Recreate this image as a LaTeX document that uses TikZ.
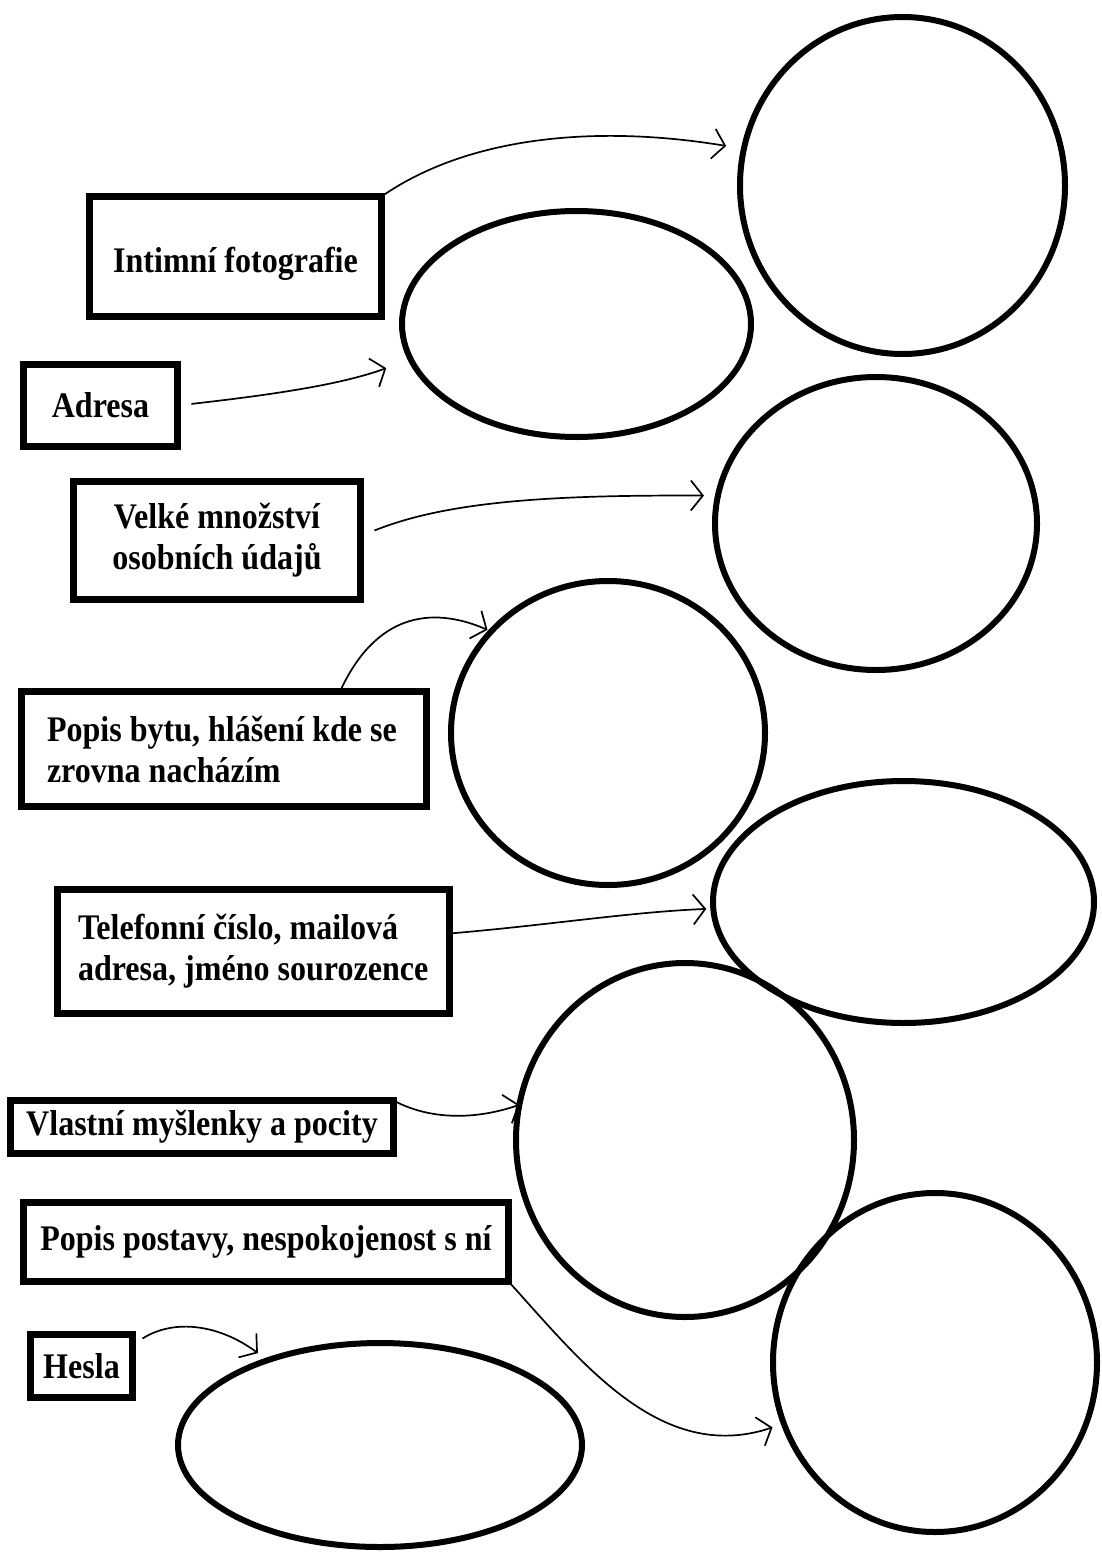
\documentclass[tikz,border=0pt]{standalone}
\usepackage{fontspec}
\usetikzlibrary{shapes.geometric,arrows.meta}
\newfontfamily\lblfont{Liberation Serif}[FakeStretch=0.89]
\newcommand\lbl{\lblfont\bfseries\fontsize{36pt}{41pt}\selectfont}
\newcommand\natsp{\spaceskip=0pt\xspaceskip=0pt\relax}
\begin{document}
\begin{tikzpicture}[x=1pt,y=-1pt,
  box/.style={draw, line width=7pt, rectangle, outer sep=0pt, inner sep=2pt, font=\lbl, text=black},
  oval/.style={draw, line width=6pt, ellipse, outer sep=0pt, inner sep=0pt},
  conn/.style={line width=1.7pt, -{Straight Barb[length=12pt,width=30pt]}}]
\useasboundingbox (0,0) rectangle (1101,1552);
\fill[white] (0,0) rectangle (1101,1552);

% ovals
\node[oval, minimum width=325pt, minimum height=337pt] (e1) at (902.5,185.5) {};
\node[oval, minimum width=349pt, minimum height=226pt] (e2) at (576.5,324) {};
\node[oval, minimum width=322pt, minimum height=293pt] (e3) at (876,523.5) {};
\node[oval, minimum width=314pt, minimum height=304pt] (e4) at (608,733) {};
\node[oval, minimum width=381pt, minimum height=242pt] (e5) at (903.5,902) {};
\node[oval, minimum width=338pt, minimum height=354pt] (e6) at (685,1140) {};
\node[oval, minimum width=324pt, minimum height=339pt] (e7) at (935,1362.5) {};
\node[oval, minimum width=404pt, minimum height=204pt] (e8) at (380,1445) {};

% boxes
\node[box, minimum width=292pt, minimum height=120pt] (b1) at (235.5,256.5) {\raisebox{-7pt}[\height][\depth]{Intimní fotografie}};
\node[box, minimum width=154pt, minimum height=82pt] (b2) at (100.5,405.5) {Adresa};
\node[box, minimum width=287pt, minimum height=118pt, align=center] (b3) at (217,540.5) {\natsp Velké množství\\osobních údajů};
\node[box, minimum width=405pt, minimum height=115pt, text width=354pt, align=left] (b4) at (224,749) {\natsp\mbox{Popis bytu, hlášení kde se}\\\mbox{zrovna nacházím}};
\node[box, minimum width=392pt, minimum height=124pt, text width=351pt, align=left] (b5) at (253.5,951.5) {\natsp\mbox{Telefonní číslo, mailová}\\\mbox{adresa, jméno sourozence}};
\node[box, minimum width=383pt, minimum height=53pt] (b6) at (202,1127) {Vlastní myšlenky a pocity};
\node[box, minimum width=485pt, minimum height=79pt] (b7) at (266,1242) {Popis postavy, nespokojenost s ní};
\node[box, minimum width=102pt, minimum height=63pt] (b8) at (81.5,1366) {Hesla};

% connectors
\draw[conn, shorten >=18pt] (b1.north east) .. controls (470,135) and (600,125) .. (e1.167);
\draw[conn, shorten <=14pt, shorten >=26pt] (b2.east) .. controls (270,395) and (340,385) .. (e2.192);
\draw[conn, shorten >=14pt] ([xshift=14pt,yshift=10pt]b3.east) .. controls (450,500) and (560,495) .. (e3.170);
\draw[conn, shorten >=4pt] ([xshift=116pt]b4.north) .. controls (375,615) and (430,605) .. (e4.139);
\draw[conn, shorten >=7pt] ([yshift=18pt]b5.east) .. controls (550,925) and (630,912) .. (e5.182);
\draw[conn] (b6.north east) .. controls (430,1120) and (475,1120) .. (e6.168);
\draw[conn, shorten >=12pt] (b7.south east) .. controls (580,1360) and (660,1465) .. (e7.202);
\draw[conn, shorten >=12pt] ([xshift=10pt,yshift=-4pt]b8.north east) .. controls (175,1318) and (220,1325) .. (e8.143);
\end{tikzpicture}
\end{document}
